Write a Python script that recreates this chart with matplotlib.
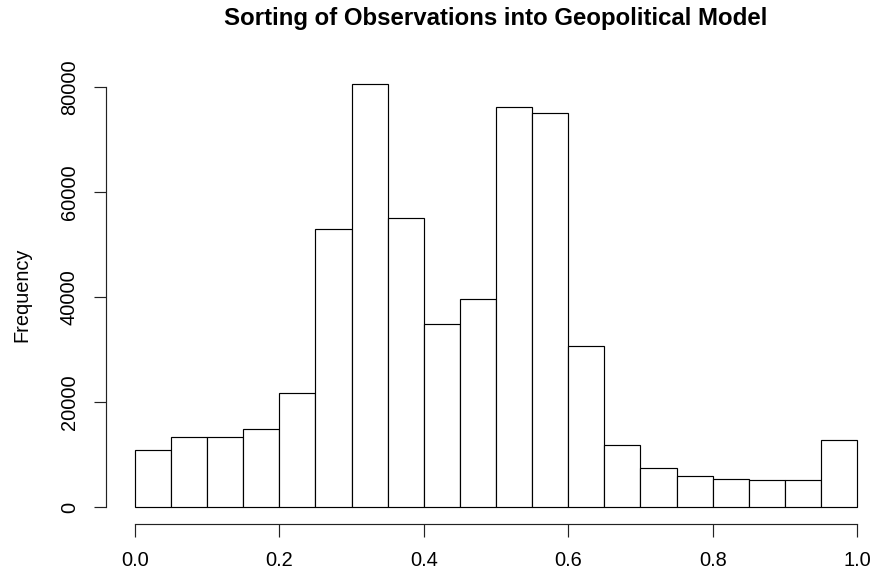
import numpy as np
import matplotlib
matplotlib.use("Agg")
import matplotlib.pyplot as plt

plt.rcParams['font.family'] = ['Liberation Sans', 'DejaVu Sans']

# histogram bins (width 0.05) and counts
bin_left = [0.00, 0.05, 0.10, 0.15, 0.20, 0.25, 0.30, 0.35, 0.40, 0.45,
            0.50, 0.55, 0.60, 0.65, 0.70, 0.75, 0.80, 0.85, 0.90, 0.95]
bin_width = 0.05
counts = [10800, 13400, 13400, 14850, 21650, 52950, 80550, 55050, 34900, 39600,
          76250, 75100, 30650, 11900, 7350, 5950, 5300, 5150, 5150, 12750]

x_ticks = [0.0, 0.2, 0.4, 0.6, 0.8, 1.0]
x_labels = ["0.0", "0.2", "0.4", "0.6", "0.8", "1.0"]
y_ticks = [0, 20000, 40000, 60000, 80000]
y_labels = ["0", "20000", "40000", "60000", "80000"]

W, H = 875, 575
fig = plt.figure(figsize=(W / 100, H / 100), dpi=100)
ax = fig.add_axes([106 / W, (H - 524) / H, 780 / W, (524 - 67) / H])

ax.bar(bin_left, counts, width=bin_width, align='edge',
       facecolor='white', edgecolor='black', linewidth=0.85)

ymax = max(counts)
ax.set_xlim(-0.04, 1.04)
ax.set_ylim(-0.04 * ymax, 1.04 * ymax)

for s in ['top', 'right']:
    ax.spines[s].set_visible(False)
ax.spines['left'].set_bounds(0, 80000)
ax.spines['bottom'].set_bounds(0, 1)
for s in ['left', 'bottom']:
    ax.spines[s].set_linewidth(0.85)
    ax.spines[s].set_color('#222222')

ax.set_xticks(x_ticks)
ax.set_xticklabels(x_labels, fontsize=14.4)
ax.set_yticks(y_ticks)
ax.set_yticklabels(y_labels, fontsize=14.4, rotation=90, va='center')
ax.tick_params(axis='both', direction='out', length=9, width=0.85,
               color='#222222', pad=10.5)

# title centred over the plot region, like R's main title
fig.text(496 / W, (H - 19) / H, "Sorting of Observations into Geopolitical Model",
         fontsize=17.3, fontweight='bold', ha='center', va='center')
fig.text(22 / W, (H - 295) / H, "Frequency", rotation=90,
         fontsize=14.4, ha='center', va='center')

fig.savefig("out.png", dpi=100)
